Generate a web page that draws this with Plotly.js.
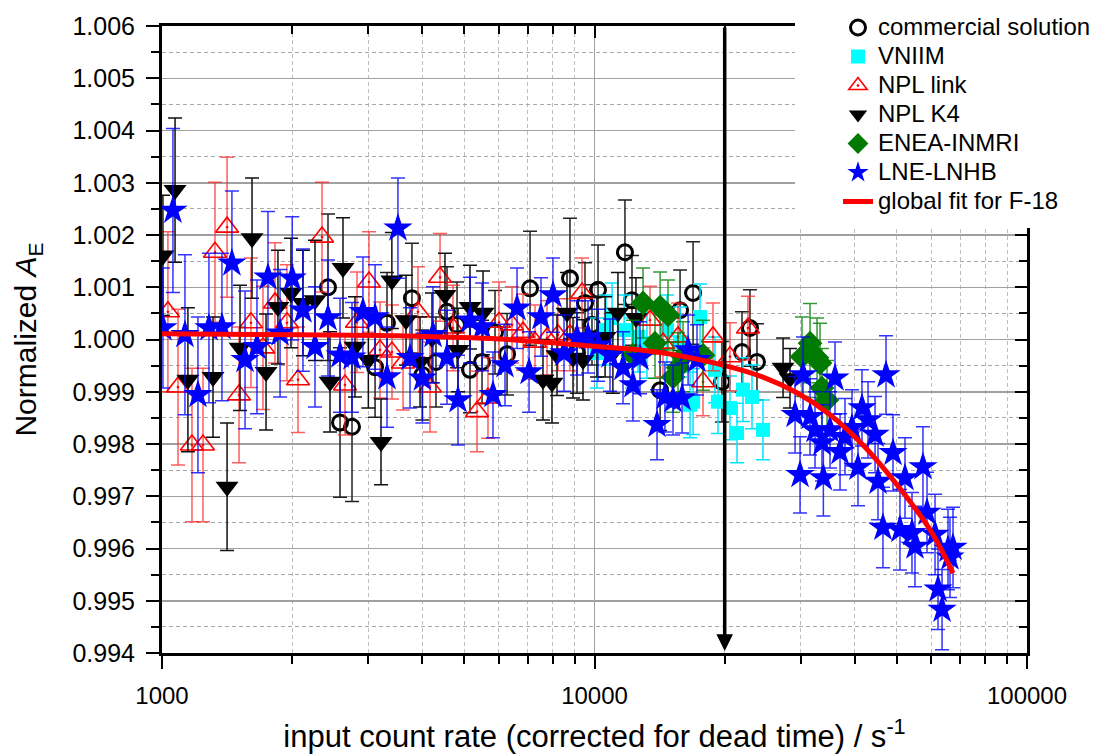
<!DOCTYPE html>
<html><head><meta charset="utf-8">
<script src="https://cdn.plot.ly/plotly-3.0.1.min.js"></script>
<style>html,body{margin:0;padding:0;background:#fff}#plot{width:1102px;height:754px}</style>
</head><body><div id="plot"></div>
<script>
// ---------- data ----------
const seriesNames = ['commercial solution', 'VNIIM', 'NPL link', 'NPL K4', 'ENEA-INMRI', 'LNE-LNHB', 'global fit for F-18'];
const xTickValues = [1000, 10000, 100000];
const markerRate = 20000;

const commercialRate = [2420, 2580, 2750, 3109, 3313, 3784, 4000, 4300, 4560, 4810, 5154, 5495, 5888, 6278, 7095, 8776, 9110, 9506, 9867, 10190, 11760, 12210, 14180, 15770, 16900, 19710, 21930, 22880, 23750];
const commercialValue = [1.00100, 0.99841, 0.99833, 0.99947, 1.00032, 1.00079, 0.99932, 0.99957, 1.00053, 1.00028, 0.99942, 0.99957, 1.00014, 0.99972, 1.00098, 1.00117, 0.99974, 1.00070, 1.00028, 1.00095, 1.00167, 1.00075, 0.99903, 1.00056, 1.00089, 0.99919, 0.99976, 1.00022, 0.99957];
const commercialError = [0.0014, 0.00143, 0.00143, 0.00096, 0.00096, 0.00105, 0.00086, 0.00086, 0.00086, 0.00082, 0.00082, 0.0008, 0.0008, 0.00078, 0.00109, 0.00115, 0.00077, 0.00077, 0.00077, 0.00086, 0.001, 0.00086, 0.00077, 0.00077, 0.00098, 0.00077, 0.00077, 0.00073, 0.00073];

const vniimRate = [10130, 10630, 10980, 11710, 12210, 12610, 13220, 14710, 15770, 16630, 16900, 17540, 18990, 19300, 20570, 21360, 22050, 23130, 24520];
const vniimValue = [0.99974, 1.00018, 1.00041, 1.00018, 0.99974, 1.00005, 0.99993, 1.00018, 0.99995, 0.99875, 0.99881, 1.00043, 0.99942, 0.99881, 0.99869, 0.99821, 0.99904, 0.99890, 0.99827];
const vniimError = [0.00067, 0.00067, 0.00067, 0.00067, 0.00067, 0.00067, 0.00067, 0.00067, 0.00067, 0.00063, 0.00063, 0.00063, 0.00063, 0.00061, 0.00061, 0.00057, 0.00061, 0.00061, 0.00057];

const nplLinkRate = [1032, 1089, 1173, 1244, 1326, 1414, 1507, 1606, 1712, 1825, 1945, 2063, 2344, 2649, 2824, 3010, 3192, 3402, 3608, 3907, 4166, 4394, 4708, 5350, 5672, 6015, 6446, 6834, 7286, 7767, 8234, 8776, 9357, 13440, 14400, 15600, 17820, 18790, 20570, 22640];
const nplLinkValue = [1.00053, 0.99909, 0.99798, 0.99798, 1.00167, 1.00215, 0.99894, 1.00032, 0.99984, 1.00070, 1.00032, 0.99923, 1.00196, 0.99913, 1.00033, 1.00110, 0.99980, 0.99976, 0.99955, 1.00053, 0.99909, 1.00119, 1.00022, 0.99862, 0.99888, 1.00033, 1.00028, 1.00014, 0.99995, 1.00003, 1.00009, 1.00009, 1.00089, 1.00037, 0.99993, 1.00005, 0.99919, 1.00005, 0.99967, 1.00022];
const nplLinkError = [0.00153, 0.00149, 0.00147, 0.00147, 0.00134, 0.00134, 0.0013, 0.00124, 0.00118, 0.00115, 0.00111, 0.00101, 0.00105, 0.00096, 0.00096, 0.00096, 0.00092, 0.0009, 0.0009, 0.00086, 0.00086, 0.00084, 0.00082, 0.00077, 0.00077, 0.00077, 0.00073, 0.00073, 0.00071, 0.00071, 0.00069, 0.00069, 0.00067, 0.00065, 0.00065, 0.00065, 0.00065, 0.00065, 0.00065, 0.00061];

const nplK4Rate = [1005, 1072, 1148, 1312, 1414, 1515, 1615, 1740, 1854, 1987, 2118, 2258, 2446, 2621, 2794, 3000, 3209, 3400, 3666, 3950, 4210, 4511, 4835, 5154, 5524, 7601, 7974, 8190, 8639, 8920, 9406, 10130, 10580, 11030, 11330, 12470, 27290, 28320];
const nplK4Value = [1.00161, 1.00286, 0.99923, 0.99928, 0.99718, 0.99984, 1.00194, 0.99938, 1.00062, 1.00089, 1.00070, 1.00075, 0.99919, 1.00137, 0.99986, 0.99961, 0.99804, 1.00113, 1.00037, 0.99957, 1.00003, 1.00085, 0.99980, 1.00062, 1.00051, 0.99923, 0.99917, 0.99970, 1.00051, 0.99965, 0.99961, 1.00005, 1.00005, 0.99974, 1.00051, 1.00041, 0.99946, 0.99926];
const nplK4Error = [0.00115, 0.00138, 0.00138, 0.00115, 0.00122, 0.0012, 0.00115, 0.00111, 0.00109, 0.00105, 0.00101, 0.00115, 0.00096, 0.00096, 0.00096, 0.00092, 0.00082, 0.00092, 0.00086, 0.00086, 0.00086, 0.0008, 0.0008, 0.0008, 0.0008, 0.00077, 0.00077, 0.00077, 0.00077, 0.00077, 0.00077, 0.00077, 0.00077, 0.00077, 0.00077, 0.00077, 0.00057, 0.00057];

const eneaRate = [12270, 12950, 13800, 14180, 14790, 15190, 15600, 16020, 17820, 30180, 31500, 32700, 33220, 33570, 34480];
const eneaValue = [0.99970, 1.00070, 0.99993, 1.00062, 1.00047, 0.99928, 0.99946, 0.99967, 0.99970, 0.99967, 0.99993, 0.99965, 0.99955, 0.99907, 0.99884];
const eneaError = [0.00067, 0.00067, 0.00067, 0.00067, 0.00067, 0.00067, 0.00067, 0.00067, 0.00067, 0.00076, 0.00076, 0.00076, 0.00076, 0.00076, 0.00076];

const lneRate = [1005, 1060, 1130, 1211, 1284, 1376, 1451, 1556, 1658, 1758, 1875, 2000, 2118, 2258, 2420, 2580, 2750, 2915, 3109, 3313, 3512, 3745, 4000, 4233, 4560, 4835, 5154, 5495, 5825, 6209, 6620, 7058, 7521, 8017, 8502, 9110, 9661, 10190, 10860, 11640, 12270, 12740, 13950, 14550, 15190, 15940, 16460, 17260, 29090, 29870, 30350, 31500, 32350, 33570, 33820, 35040, 35980, 36960, 37950, 39390, 40670, 41540, 42900, 44530, 45240, 46450, 47210, 49000, 50850, 52230, 54210, 55080, 57470, 58730, 61280, 62270, 63620, 65670, 66370, 67440];
const lneValue = [1.00022, 1.00247, 1.00009, 0.99894, 1.00022, 1.00024, 1.00146, 0.99961, 0.99986, 1.00119, 1.00012, 1.00117, 1.00056, 0.99986, 1.00041, 0.99970, 0.99966, 1.00053, 1.00043, 0.99928, 1.00213, 0.99965, 0.99926, 1.00009, 0.99966, 0.99884, 1.00037, 1.00024, 0.99894, 0.99951, 1.00060, 0.99938, 1.00043, 1.00085, 0.99974, 1.00003, 1.00005, 0.99989, 0.99970, 0.99946, 0.99913, 0.99965, 0.99837, 0.99890, 0.99884, 0.99888, 0.99980, 0.99961, 0.99856, 0.99741, 0.99932, 0.99852, 0.99827, 0.99802, 0.99735, 0.99827, 0.99926, 0.99785, 0.99814, 0.99831, 0.99755, 0.99869, 0.99846, 0.99818, 0.99728, 0.99640, 0.99932, 0.99783, 0.99636, 0.99735, 0.99630, 0.99604, 0.99756, 0.99669, 0.99627, 0.99522, 0.99483, 0.99598, 0.99583, 0.99602];
const lneError = [0.00115, 0.00157, 0.00153, 0.00149, 0.00143, 0.00141, 0.00138, 0.00132, 0.00128, 0.00126, 0.00122, 0.00118, 0.00117, 0.00115, 0.00111, 0.00109, 0.00105, 0.00105, 0.001, 0.00096, 0.00096, 0.00096, 0.00086, 0.00092, 0.0009, 0.00086, 0.00082, 0.00084, 0.00082, 0.00078, 0.00077, 0.00077, 0.00075, 0.00071, 0.00073, 0.00071, 0.00069, 0.00069, 0.00069, 0.00069, 0.00069, 0.00069, 0.00067, 0.00067, 0.00067, 0.00067, 0.00067, 0.00067, 0.00073, 0.00073, 0.00073, 0.00073, 0.00073, 0.00073, 0.00073, 0.00073, 0.00069, 0.00073, 0.00073, 0.00073, 0.00073, 0.00073, 0.00073, 0.00073, 0.00073, 0.00077, 0.00075, 0.00073, 0.00077, 0.00077, 0.00077, 0.00077, 0.00077, 0.00077, 0.00077, 0.00077, 0.00077, 0.00077, 0.00077, 0.00077];

const fitRate = [1000, 2085, 3551, 6046, 9974, 13950, 19820, 24520, 29390, 35040, 41760, 50050, 59660, 67440];
const fitValue = [1.00011, 1.00009, 1.00007, 1.00001, 0.99987, 0.99976, 0.99951, 0.99928, 0.99898, 0.99856, 0.99798, 0.99722, 0.99636, 0.99553];

// ---------- styling ----------
const FONT = 'Arial, "Liberation Sans", sans-serif';
const legendName = n => '<span style="font-size:24px">' + n + '</span>';

function pointSeries(i, rate, value, err, marker, errColor) {
  return {
    type: 'scatter', mode: 'markers', name: legendName(seriesNames[i]),
    x: rate, y: value,
    error_y: {type: 'data', array: err, visible: true, color: errColor, thickness: 1.5, width: 7},
    marker: marker, hoverinfo: 'skip', cliponaxis: true
  };
}

const data = [
  pointSeries(0, commercialRate, commercialValue, commercialError,
    {symbol: 'circle-open', size: 15, color: 'black', line: {width: 3, color: 'black'}}, '#222222'),
  pointSeries(1, vniimRate, vniimValue, vniimError,
    {symbol: 'square', size: 14, color: '#00ffff', line: {width: 0}}, '#00e5ff'),
  pointSeries(2, nplLinkRate, nplLinkValue, nplLinkError,
    {symbol: 'triangle-up-open-dot', size: 20, color: '#ff0000', line: {width: 1.6, color: '#ff0000'}}, 'rgba(255,40,40,0.75)'),
  pointSeries(3, nplK4Rate, nplK4Value, nplK4Error,
    {symbol: 'triangle-down', size: 20, color: 'black', line: {width: 0}}, '#111111'),
  pointSeries(4, eneaRate, eneaValue, eneaError,
    {symbol: 'diamond', size: 19, color: '#007a00', line: {width: 0}}, 'rgba(0,128,0,0.8)'),
  pointSeries(5, lneRate, lneValue, lneError,
    {symbol: 'star', size: 22, color: '#0000ff', line: {width: 0}}, 'rgba(0,0,255,0.8)'),
  {type: 'scatter', mode: 'lines', name: legendName(seriesNames[6]), x: fitRate, y: fitValue,
    line: {color: '#ff0000', width: 5, shape: 'spline', smoothing: 1}, hoverinfo: 'skip'},
  // carrier for the mirrored top / right axes
  {type: 'scatter', mode: 'markers', x: [xTickValues[0]], y: [1], xaxis: 'x2', yaxis: 'y2',
    marker: {opacity: 0}, showlegend: false, hoverinfo: 'skip'}
];

const gridMajor = '#a0a0a0';
const layout = {
  width: 1102, height: 754,
  margin: {l: 162, r: 75, t: 26, b: 101, autoexpand: false},
  paper_bgcolor: 'white', plot_bgcolor: 'white',
  font: {family: FONT, color: 'black'},
  hovermode: false,
  showlegend: true,
  legend: {x: 0.7815, y: 1.0287, xanchor: 'left', yanchor: 'top', bgcolor: 'rgba(0,0,0,0)',
    borderwidth: 0, font: {size: 20, family: FONT, color: 'black'}},
  xaxis: {
    type: 'log', range: [3, 5], tickmode: 'array', tickvals: xTickValues, ticktext: xTickValues.map(String),
    showline: true, linewidth: 3, linecolor: 'black', mirror: false,
    ticks: 'outside', ticklen: 13, tickwidth: 2, tickcolor: 'black',
    showgrid: true, gridcolor: gridMajor, gridwidth: 1.5, zeroline: false,
    tickfont: {size: 24, family: FONT}, ticklabelstandoff: 6,
    title: {text: 'input count rate (corrected for dead time) / s<sup>-1</sup>', font: {size: 31, family: FONT}, standoff: 19},
    minor: {dtick: 'D1', ticks: 'outside', ticklen: 8, tickwidth: 2, tickcolor: 'black',
      showgrid: true, gridcolor: '#bdbdbd', gridwidth: 1, griddash: '4px,3px'}
  },
  yaxis: {
    range: [0.994, 1.006], dtick: 0.001, tickformat: '.3f',
    showline: true, linewidth: 3, linecolor: 'black',
    ticks: 'outside', ticklen: 13, tickwidth: 2, tickcolor: 'black',
    showgrid: true, gridcolor: gridMajor, gridwidth: 1.5, zeroline: false,
    tickfont: {size: 25, family: FONT}, ticklabelstandoff: 6,
    title: {text: 'Normalized <i>A</i><sub>E</sub>', font: {size: 30, family: FONT}, standoff: 27},
    minor: {dtick: 0.0005, ticks: 'outside', ticklen: 8, tickwidth: 2, tickcolor: 'black',
      showgrid: true, gridcolor: '#a8a8a8', gridwidth: 1, griddash: '4px,3px'}
  },
  xaxis2: {
    type: 'log', range: [3, 5], overlaying: 'x', side: 'top', anchor: 'y',
    tickmode: 'array', tickvals: xTickValues, showticklabels: false,
    showline: true, linewidth: 3, linecolor: 'black', showgrid: false, zeroline: false,
    ticks: 'inside', ticklen: 12, tickwidth: 2, tickcolor: 'black',
    minor: {dtick: 'D1', ticks: 'inside', ticklen: 8, tickwidth: 2, tickcolor: 'black', showgrid: false}
  },
  yaxis2: {
    range: [0.994, 1.006], overlaying: 'y', side: 'right', anchor: 'x',
    dtick: 0.001, showticklabels: false,
    showline: true, linewidth: 3, linecolor: 'black', showgrid: false, zeroline: false,
    ticks: 'inside', ticklen: 12, tickwidth: 2, tickcolor: 'black',
    minor: {dtick: 0.0005, ticks: 'inside', ticklen: 8, tickwidth: 2, tickcolor: 'black', showgrid: false}
  },
  shapes: [
    {type: 'rect', xref: 'paper', yref: 'paper', x0: 0.7318, x1: 1.2, y0: 0.6778, y1: 1.2,
      fillcolor: 'white', line: {width: 0}, layer: 'above'}
  ],
  annotations: [
    {xref: 'x', yref: 'y', axref: 'x', ayref: 'y',
      x: Math.log10(markerRate), y: 0.99404, ax: Math.log10(markerRate), ay: 1.006,
      text: '', showarrow: true, arrowhead: 2, arrowsize: 0.95, arrowwidth: 3.5, arrowcolor: 'black', standoff: 0}
  ]
};

Plotly.newPlot('plot', data, layout, {staticPlot: true, displayModeBar: false});
</script>
</body></html>
